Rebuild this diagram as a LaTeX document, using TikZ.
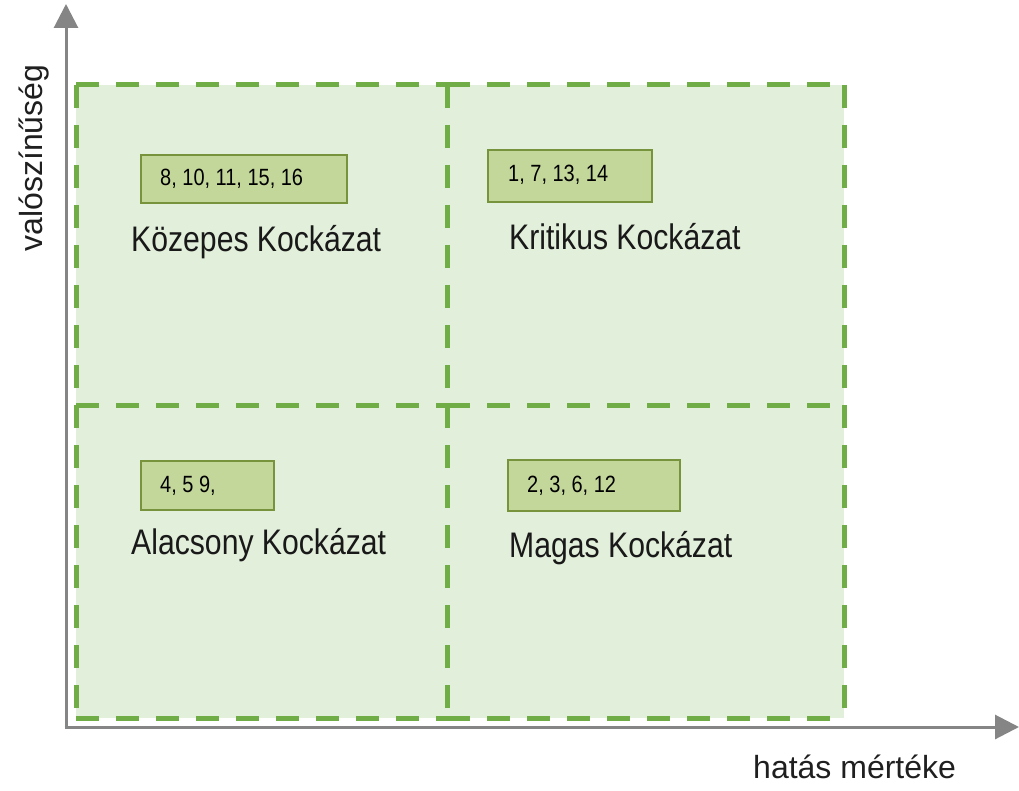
\documentclass[tikz,border=0pt]{standalone}
\usepackage{fontspec}
\setmainfont{Liberation Sans}
\newfontfamily\narrowfont{Liberation Sans}[FakeStretch=0.85]
\usetikzlibrary{arrows.meta}
\definecolor{quadfill}{HTML}{E2EFDA}
\definecolor{quadline}{HTML}{70AD47}
\definecolor{boxfill}{HTML}{C4D79B}
\definecolor{boxline}{HTML}{77933C}
\definecolor{axisgray}{HTML}{858585}
\begin{document}
\begin{tikzpicture}[x=1pt,y=-1pt,
  quad/.style={draw=quadline,line width=5pt,dash pattern=on 23pt off 17pt},
  numbox/.style={draw=boxline,fill=boxfill,line width=2pt,inner sep=0pt,anchor=north west},
  numtext/.style={anchor=base west,inner sep=0pt,font=\narrowfont\fontsize{23.5}{28}\selectfont},
  riskname/.style={anchor=base west,inner sep=0pt,font=\narrowfont\fontsize{35.5}{42}\selectfont,text=black!90},
  axislabel/.style={inner sep=0pt,font=\fontsize{32}{38}\selectfont,text=black!88},
  axisline/.style={draw=axisgray,line width=3pt,-{Triangle[length=24pt,width=24pt]}}]
\useasboundingbox (0,0) rectangle (1019,791);
% quadrant corners
\coordinate (tl) at (76,85);
\coordinate (tm) at (447,85);
\coordinate (tr) at (844,85);
\coordinate (ml) at (76,405);
\coordinate (mm) at (447,405);
\coordinate (mr) at (844,405);
\coordinate (bl) at (76,718);
\coordinate (bm) at (447,718);
\coordinate (br) at (844,718);
\fill[quadfill] (tl) rectangle (br);
% horizontal edges, each drawn from its left end
\draw[quad] (tl) -- (tm);
\draw[quad] (tm) -- (tr);
\draw[quad] (ml) -- (mm);
\draw[quad] (mm) -- (mr);
\draw[quad] (bl) -- (bm);
\draw[quad] (bm) -- (br);
% vertical edges, each drawn from its top end
\draw[quad] (tl) -- (ml);
\draw[quad] (ml) -- (bl);
\draw[quad] (tm) -- (mm);
\draw[quad] (mm) -- (bm);
\draw[quad] (tr) -- (mr);
\draw[quad] (mr) -- (br);
% axes
\coordinate (origin) at (66,727);
\coordinate (ytip) at (66,4);
\coordinate (xtip) at (1019,727);
\draw[axisline] (origin) -- (ytip);
\draw[axisline] ([xshift=-1.5pt]origin) -- (xtip);
% number boxes
\node[numbox,minimum width=206pt,minimum height=48pt] (b1) at (140,154) {};
\node[numbox,minimum width=164pt,minimum height=52pt] (b2) at (487,149) {};
\node[numbox,minimum width=133pt,minimum height=49pt] (b3) at (140,460) {};
\node[numbox,minimum width=172pt,minimum height=51pt] (b4) at (507,459) {};
\node[numtext] (t1) at (160,186) {8, 10, 11, 15, 16};
\node[numtext] (t2) at (508,182) {1, 7, 13, 14};
\node[numtext] (t3) at (160,492) {4, 5 9,};
\node[numtext] (t4) at (527,492) {2, 3, 6, 12};
% risk names
\node[riskname] (n1) at (131,252) {Közepes Kockázat};
\node[riskname] (n2) at (509,250) {Kritikus Kockázat};
\node[riskname] (n3) at (131,554) {Alacsony Kockázat};
\node[riskname] (n4) at (509,557) {Magas Kockázat};
% axis labels
\node[axislabel,anchor=base west] (xl) at (753,778) {hatás mértéke};
\node[axislabel,anchor=base,rotate=90] (yl) at (42,158) {valószínűség};
\end{tikzpicture}
\end{document}
